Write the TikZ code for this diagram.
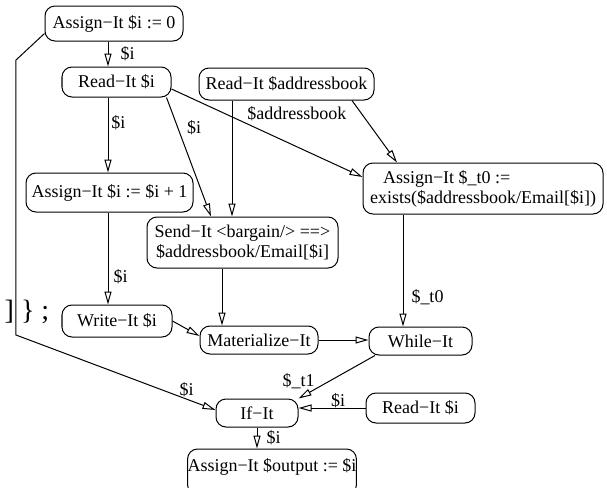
\documentclass[tikz,border=0pt]{standalone}
\usepackage{fontspec}
\setmainfont{Liberation Serif}
\usetikzlibrary{arrows.meta}

\begin{document}
\begin{tikzpicture}[x=0.5pt, y=-0.5pt,
  every node/.style={font=\fontsize{9}{10}\selectfont},
  op/.style={draw, rounded corners=5pt, inner sep=0pt, line width=0.5pt},
  flow/.style={line width=0.5pt, -{Triangle[open,length=6.5pt,width=3.5pt]}},
  lab/.style={inner sep=0pt}]
\useasboundingbox (0,0) rectangle (607,488);
% the operator boxes
\node[op, minimum width=69pt, minimum height=17.5pt] (a0) at (114,23.5) {Assign−It \$i := 0};
\node[op, minimum width=54.5pt, minimum height=15pt] (r1) at (116.5,82) {Read−It \$i};
\node[op, minimum width=87.5pt, minimum height=16pt] (ra) at (286.5,84) {Read−It \$addressbook};
\node[op, minimum width=83.5pt, minimum height=19.5pt] (a1) at (109.5,192.5) {Assign−It \$i := \$i + 1};
\node[op, minimum width=120pt, minimum height=25.5pt, align=left] (at0) at (483,188.5)
  {\hspace{6.5pt}Assign−It \$\_t0 :=\\exists(\$addressbook/Email[\$i])};
\node[op, minimum width=95.5pt, minimum height=25.5pt, align=center] (s) at (242.5,242.5)
  {Send−It <bargain/> ==>\\\$addressbook/Email[\$i]};
\node[op, minimum width=55pt, minimum height=16pt] (w) at (117,321) {Write−It \$i};
\node[op, minimum width=59pt, minimum height=14pt] (m) at (259,340) {Materialize−It};
\node[op, minimum width=51.5pt, minimum height=14pt] (wh) at (420.5,341) {While−It};
\node[op, minimum width=41pt, minimum height=14pt] (if) at (257,413) {If−It};
\node[op, minimum width=54.5pt, minimum height=15pt] (r2) at (420.5,408) {Read−It \$i};
\node[op, minimum width=83pt, minimum height=23pt, text depth=6.9pt] (ao) at (272,472) {Assign−It \$output := \$i};
% stray text on the left
\node[lab, font=\fontsize{14}{15}\selectfont] (brk) at (27,312) {] \} ;};
% bends of the long line
\coordinate (bendtop) at (16,60);
\coordinate (bendlow) at (16,335);
% the arrows
\draw[flow] ([xshift=-3pt]a0.south) -- ([xshift=-3pt]a0.south |- r1.north)
  node[lab, midway, right=6pt] {\$i};
\draw[flow] ([xshift=-4.25pt]r1.south) -- ([xshift=-4.25pt]r1.south |- a1.north)
  node[lab, pos=0.34, right=1.5pt] {\$i};
\draw[flow] ([xshift=-2.5pt]r1.south east) -- ([xshift=-15.75pt]s.north)
  node[lab, pos=0.25, right=4.5pt] {\$i};
\draw[flow] ([yshift=-3.5pt]r1.east) -- ([yshift=5.75pt]at0.west);
\draw[flow] ([xshift=-27.25pt]ra.south) -- ([xshift=-27.25pt]ra.south |- s.north)
  node[lab, pos=0.11, right=7.5pt] {\$addressbook};
\draw[flow] ([xshift=32.75pt]ra.south) -- ([xshift=-43pt]at0.north);
\draw[flow] ([xshift=-0.75pt]a1.south) -- ([xshift=-0.75pt]a1.south |- w.north)
  node[lab, pos=0.7, right=2.5pt] {\$i};
\draw[flow] ([xshift=-10.25pt]s.south) -- ([xshift=-10.25pt]s.south |- m.north);
\draw[flow] ([xshift=-40pt]at0.south) -- ([xshift=-40pt]at0.south |- wh.north)
  node[lab, pos=0.74, right=4pt] {\$\_t0};
\draw[flow] (w.east) -- ([yshift=2pt]m.west);
\draw[flow] (m.east) -- (m.east -| wh.west);
\draw[flow] ([xshift=-22.75pt]wh.south) -- (if.north east)
  node[lab, pos=0.6, left=7pt] {\$\_t1};
\draw[flow] (r2.west) -- (r2.west -| if.east)
  node[lab, pos=0.41, above=0pt] {\$i};
\draw[flow] (if.south) -- (if.south |- ao.north)
  node[lab, midway, right=4.5pt] {\$i};
\draw[flow] ([yshift=4pt]a0.south west) -- (bendtop) -- (bendlow) -- ([yshift=1.5pt]if.west)
  node[lab, pos=0.855, above=1pt] {\$i};
\end{tikzpicture}
\end{document}
